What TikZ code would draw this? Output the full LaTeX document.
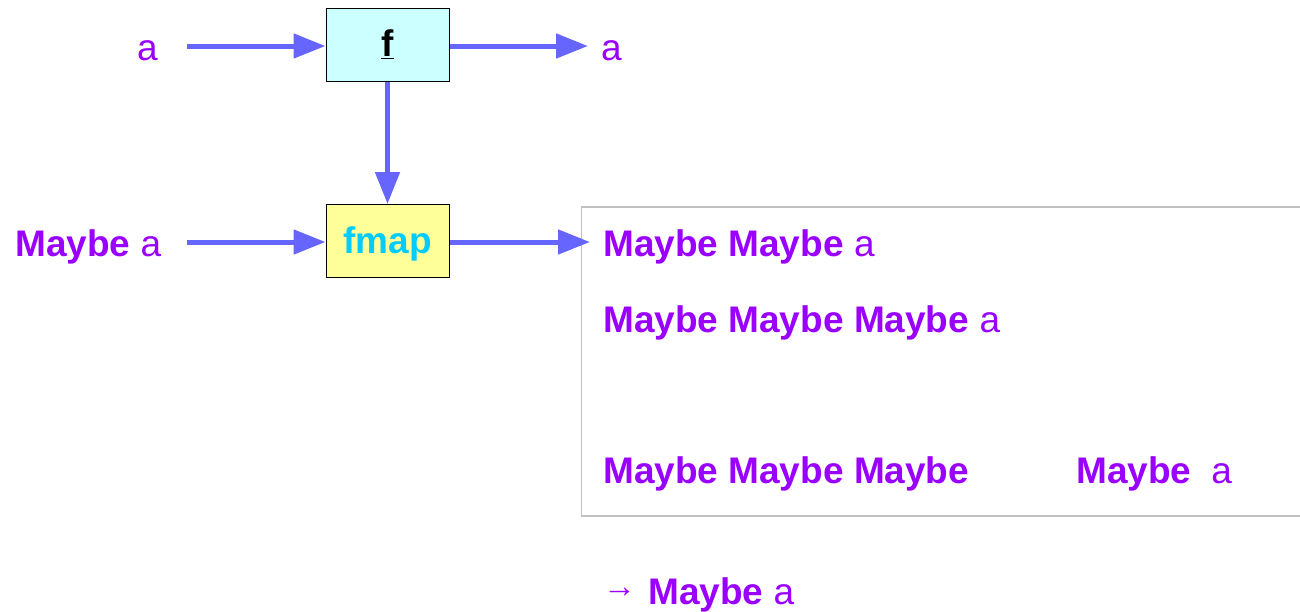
\documentclass[tikz,border=0pt]{standalone}
\usepackage{fontspec}
\setmainfont{Liberation Sans}
\usetikzlibrary{arrows.meta}
\definecolor{pur}{HTML}{9900FF}
\definecolor{arr}{HTML}{6666FF}
\definecolor{fcyan}{HTML}{CCFFFF}
\definecolor{fyel}{HTML}{FFFF99}
\definecolor{tcyan}{HTML}{00CCFF}
\definecolor{bord}{HTML}{C0C0C0}
\tikzset{
  txt/.style={font=\fontsize{37}{44}\selectfont, text=pur, inner sep=0pt, anchor=base west},
  fbox/.style={draw=black, line width=1pt, minimum width=123pt, minimum height=73pt, inner sep=0pt, text height=30pt, text depth=6pt, font=\fontsize{37}{44}\selectfont\bfseries},
  conn/.style={draw=arr, line width=5pt, -{Triangle[length=32pt,width=24pt]}, shorten >=0pt},
}
\begin{document}
\begin{tikzpicture}[x=1pt,y=-1pt]
\useasboundingbox (0,0) rectangle (1300,611);
% result box
\draw[bord, line width=1.2pt] (1302,207) -- (581.5,207) -- (581.5,516) -- (1302,516);
% boxes
\node[fbox, fill=fcyan] (f) at (387.5,44.5) {\underline{f}};
\node[fbox, fill=fyel, text=tcyan] (fmap) at (387.5,241) {fmap};
% labels
\node[txt] (ain) at (137,60) {a};
\node[txt] (aout) at (601,60) {a};
\node[txt] (min) at (15,256) {\textbf{Maybe} a};
\node[txt] (l1) at (603,256) {\textbf{Maybe Maybe} a};
\node[txt] (l2) at (603,332) {\textbf{Maybe Maybe Maybe} a};
\node[txt] (l3) at (603,483) {\textbf{Maybe Maybe Maybe}};
\node[txt] (l3b) at (1076,483) {\textbf{Maybe}\hspace{20pt}a};
\node[txt, font=\fontsize{33}{40}\selectfont] (arrsym) at (603,597) {→};
\node[txt] (l4) at (648,604) {\textbf{Maybe} a};
% connector ends
\coordinate (s1) at (187,46);
\coordinate (e1) at (588,46);
\coordinate (s2) at (187,242);
\coordinate (e2) at (590,242);
% connectors
\draw[conn] (s1) -- (f.west |- s1);
\draw[conn] (f.east |- e1) -- (e1);
\draw[conn] (f.south) -- (fmap.north);
\draw[conn] (s2) -- (fmap.west |- s2);
\draw[conn] (fmap.east |- e2) -- (e2);
\end{tikzpicture}
\end{document}
